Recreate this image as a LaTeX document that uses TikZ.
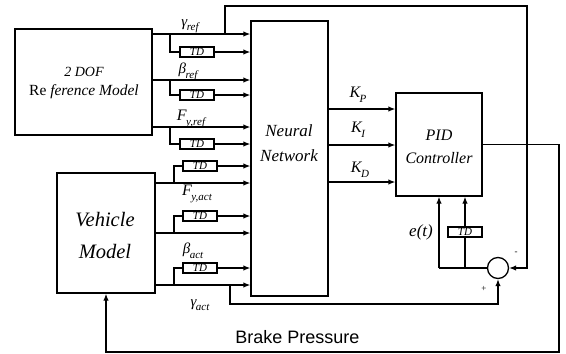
\documentclass[tikz,border=0pt]{standalone}
\usepackage{fontspec}
\setmainfont{Liberation Serif}
\newfontfamily\arialf{Liberation Sans}
\usetikzlibrary{arrows.meta,calc}
\newcommand\sglab[3][15]{{\fontsize{#1}{#1}\selectfont\itshape #2\kern-0.5pt\raisebox{-0.3em}{\fontsize{11}{11}\selectfont #3}}}
\begin{document}
\begin{tikzpicture}[x=1pt,y=-1pt,
  blk/.style={draw,line width=1.3pt,inner sep=0pt},
  tdbox/.style={draw,line width=1.2pt,minimum width=34pt,minimum height=10pt,inner sep=0pt,font=\fontsize{11}{11}\selectfont\itshape},
  wire/.style={line width=1.3pt},
  arr/.style={wire,-{Latex[length=7pt,width=5.5pt]}},
  lab/.style={inner sep=0pt},
  sgn/.style={font=\fontsize{9}{9}\selectfont,inner sep=0pt}]
\useasboundingbox (0,0) rectangle (566,354);

% blocks
\node[blk,minimum width=137pt,minimum height=106pt] (ref) at (83.5,82) {};
\node[font=\fontsize{14}{14}\selectfont\itshape] (reft1) at (84,72) {2 DOF};
\node[font=\fontsize{15.5}{15.5}\selectfont] (reft2) at (84,92) {Re \textit{ference Model}};

\node[blk,minimum width=98pt,minimum height=120pt] (veh) at (106,233) {};
\node[font=\fontsize{20.5}{20.5}\selectfont\itshape] (veht1) at (105,220) {Vehicle};
\node[font=\fontsize{20.5}{20.5}\selectfont\itshape] (veht2) at (105,251) {Model};

\node[blk,minimum width=77pt,minimum height=275pt] (nn) at (289.5,158.5) {};
\node[font=\fontsize{17}{17}\selectfont\itshape] (nnt1) at (289,131) {Neural};
\node[font=\fontsize{17}{17}\selectfont\itshape] (nnt2) at (289,156) {Network};

\node[blk,minimum width=86pt,minimum height=103pt] (pid) at (439,144.5) {};
\node[font=\fontsize{16}{16}\selectfont\itshape] (pidt1) at (439,135) {PID};
\node[font=\fontsize{16}{16}\selectfont\itshape] (pidt2) at (439,158) {Controller};

\node[draw,circle,line width=1.3pt,minimum size=21pt,inner sep=0pt] (sum) at (498,268) {};

% reference model outputs
\node[tdbox] (tdr1) at (197,52) {TD};
\node[tdbox] (tdr2) at (197,95) {TD};
\node[tdbox] (tdr3) at (197,144) {TD};
\coordinate (jr1) at (170,34);
\coordinate (jr2) at (170,80);
\coordinate (jr3) at (170,127);
\foreach \i in {1,2,3}{
  \draw[arr] (ref.east |- jr\i) -- (nn.west |- jr\i);
  \draw[wire] (jr\i) |- (tdr\i.west);
  \draw[arr] (tdr\i.east) -- (nn.west |- tdr\i);
}

% vehicle outputs
\node[tdbox] (tdv1) at (200,166) {TD};
\node[tdbox] (tdv2) at (200,216) {TD};
\node[tdbox] (tdv3) at (200,268) {TD};
\coordinate (jv1) at (174,183);
\coordinate (jv2) at (174,233);
\coordinate (jv3) at (174,285);
\foreach \i in {1,2,3}{
  \draw[arr] (veh.east |- jv\i) -- (nn.west |- jv\i);
  \draw[wire] (jv\i) |- (tdv\i.west);
  \draw[arr] (tdv\i.east) -- (nn.west |- tdv\i);
}

% labels of signals
\node[lab] (lg1) at (190,26) {\sglab{γ}{ref}};
\node[lab] (lb1) at (188,72) {\sglab{β}{ref}};
\node[lab] (lf1) at (191,119) {\sglab[16]{F}{y,ref}};
\node[lab] (lf2) at (197,194) {\sglab[16]{F}{y,act}};
\node[lab] (lb2) at (193,251) {\sglab{β}{act}};
\node[lab] (lg2) at (200,305) {\sglab{γ}{act}};

% gains
\coordinate (kp) at (360,109);
\coordinate (ki) at (360,145);
\coordinate (kd) at (360,182);
\draw[arr] (nn.east |- kp) -- (pid.west |- kp);
\draw[arr] (nn.east |- ki) -- (pid.west |- ki);
\draw[arr] (nn.east |- kd) -- (pid.west |- kd);
\node[lab] (lkp) at (358,95) {\sglab[16]{K}{P}};
\node[lab] (lki) at (358,130) {\sglab[16]{K}{I}};
\node[lab] (lkd) at (360,170) {\sglab[16]{K}{D}};

% feedback of reference yaw rate
\coordinate (fb1) at (225,34);
\coordinate (fbc) at (527,6);
\draw[arr] (fb1) -- (fb1 |- fbc) -- (fbc) -- (fbc |- sum) -- (sum.east);

% actual yaw rate to summing point
\coordinate (ga) at (230,285);
\coordinate (gb) at (230,304);
\draw[arr] (ga) -- (gb) -- (sum.south |- gb) -- (sum.south);

% error to PID
\coordinate (ej) at (439,268);
\coordinate (tj) at (465,268);
\node[tdbox] (tdp) at (465,232) {TD};
\draw[wire] (sum.west) -- (ej);
\draw[arr] (ej) -- (pid.south -| ej);
\draw[wire] (tj) -- (tdp.south);
\draw[arr] (tdp.north) -- (pid.south -| tdp);
\node[font=\fontsize{17}{17}\selectfont\itshape,inner sep=0pt] (le) at (421,232) {e(t)};
\node[sgn] (sminus) at (516,253) {-};
\node[sgn] (splus) at (484,289) {+};

% PID output to vehicle
\coordinate (po) at (559,144.5);
\coordinate (pb) at (559,352);
\draw[arr] (pid.east) -- (po) -- (pb) -- (veh.south |- pb) -- (veh.south);
\node[font=\arialf\fontsize{18}{18}\selectfont,inner sep=0pt] (bp) at (297.5,337) {Brake Pressure};
\end{tikzpicture}
\end{document}
